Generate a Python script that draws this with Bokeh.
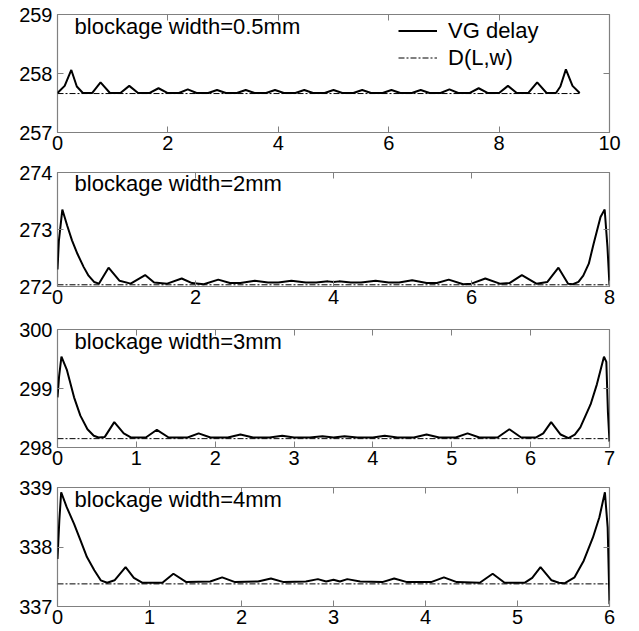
from bokeh.plotting import figure
from bokeh.models import Range1d, FixedTicker, LinearAxis, Label, Legend, LegendItem, CustomJSTickFormatter
from bokeh.layouts import column
from bokeh.embed import file_html
from bokeh.resources import INLINE

# ---------------- data ----------------
titles = ["blockage width=0.5mm", "blockage width=2mm", "blockage width=3mm", "blockage width=4mm"]
legend_labels = ["VG delay", "D(L,w)"]

x_ranges = [(0, 10), (0, 8), (0, 7), (0, 6)]
y_ranges = [(257, 259), (272, 274), (298, 300), (337, 339)]
x_ticks = [[0, 2, 4, 6, 8, 10], [0, 2, 4, 6, 8], [0, 1, 2, 3, 4, 5, 6, 7], [0, 1, 2, 3, 4, 5, 6]]
y_ticks = [[257, 258, 259], [272, 273, 274], [298, 299, 300], [337, 338, 339]]

# panel 1: width 0.5 mm
vg_x1 = [0.00, 0.13, 0.25, 0.35, 0.46, 0.63, 0.78, 0.95, 1.14, 1.30, 1.46, 1.67, 1.83, 1.99, 2.20, 2.36,
         2.52, 2.73, 2.89, 3.05, 3.25, 3.41, 3.57, 3.78, 3.94, 4.10, 4.31, 4.47, 4.63, 4.84, 5.00, 5.16,
         5.36, 5.52, 5.68, 5.89, 6.05, 6.21, 6.42, 6.58, 6.74, 6.94, 7.10, 7.26, 7.47, 7.63, 7.79, 8.00,
         8.16, 8.32, 8.53, 8.69, 8.86, 9.03, 9.11, 9.21, 9.33, 9.46]
vg_y1 = [257.67, 257.79, 258.06, 257.78, 257.67, 257.67, 257.85, 257.67, 257.67, 257.79, 257.67, 257.67,
         257.75, 257.67, 257.67, 257.73, 257.67, 257.67, 257.72, 257.67, 257.67, 257.72, 257.67, 257.67,
         257.72, 257.67, 257.67, 257.72, 257.67, 257.67, 257.72, 257.67, 257.67, 257.72, 257.67, 257.67,
         257.72, 257.67, 257.67, 257.72, 257.67, 257.67, 257.73, 257.67, 257.67, 257.75, 257.67, 257.67,
         257.79, 257.67, 257.67, 257.85, 257.67, 257.67, 257.78, 258.07, 257.79, 257.67]
d_x1 = [0.0, 9.46]
d_y1 = [257.66, 257.66]

# panel 2: width 2 mm
vg_x2 = [0.00, 0.02, 0.07, 0.14, 0.21, 0.29, 0.38, 0.45, 0.53, 0.60, 0.74, 0.90, 1.06, 1.27, 1.40, 1.59,
         1.80, 1.95, 2.12, 2.33, 2.50, 2.65, 2.86, 3.05, 3.20, 3.39, 3.60, 3.75, 3.92, 4.00, 4.08, 4.25,
         4.40, 4.61, 4.80, 4.95, 5.14, 5.35, 5.50, 5.67, 5.88, 6.00, 6.20, 6.41, 6.55, 6.73, 6.94, 7.10,
         7.26, 7.40, 7.47, 7.55, 7.62, 7.70, 7.77, 7.87, 7.93, 7.97, 8.00]
vg_y2 = [272.30, 272.80, 273.35, 273.07, 272.81, 272.57, 272.34, 272.19, 272.08, 272.05, 272.33, 272.10,
         272.05, 272.20, 272.07, 272.05, 272.14, 272.06, 272.04, 272.12, 272.06, 272.06, 272.10, 272.07,
         272.07, 272.10, 272.07, 272.07, 272.09, 272.08, 272.09, 272.07, 272.07, 272.10, 272.07, 272.07,
         272.11, 272.06, 272.06, 272.12, 272.04, 272.05, 272.14, 272.05, 272.06, 272.20, 272.05, 272.08,
         272.33, 272.05, 272.04, 272.08, 272.19, 272.40, 272.75, 273.22, 273.35, 272.70, 272.02]
d_x2 = [0.0, 8.0]
d_y2 = [272.03, 272.03]

# panel 3: width 3 mm
vg_x3 = [0.00, 0.02, 0.05, 0.12, 0.21, 0.29, 0.38, 0.46, 0.52, 0.60, 0.72, 0.84, 0.93, 1.12, 1.26, 1.41,
         1.65, 1.79, 1.94, 2.16, 2.32, 2.48, 2.69, 2.85, 3.00, 3.20, 3.36, 3.50, 3.64, 3.80, 4.00, 4.15,
         4.31, 4.52, 4.68, 4.84, 5.05, 5.20, 5.35, 5.58, 5.73, 5.88, 6.07, 6.16, 6.26, 6.38, 6.48, 6.56,
         6.63, 6.76, 6.84, 6.93, 6.96, 6.98, 7.00]
vg_y3 = [298.85, 299.20, 299.54, 299.31, 298.85, 298.54, 298.31, 298.20, 298.17, 298.18, 298.43, 298.24,
         298.17, 298.17, 298.30, 298.17, 298.17, 298.24, 298.17, 298.17, 298.22, 298.17, 298.17, 298.20,
         298.17, 298.17, 298.19, 298.17, 298.19, 298.17, 298.17, 298.20, 298.17, 298.17, 298.22, 298.17,
         298.17, 298.24, 298.17, 298.17, 298.31, 298.17, 298.17, 298.24, 298.43, 298.22, 298.16, 298.22,
         298.34, 298.73, 299.07, 299.54, 299.45, 298.60, 298.10]
d_x3 = [0.0, 7.0]
d_y3 = [298.15, 298.15]

# panel 4: width 4 mm
vg_x4 = [0.00, 0.02, 0.04, 0.10, 0.18, 0.25, 0.32, 0.40, 0.47, 0.54, 0.62, 0.74, 0.83, 0.92, 1.14, 1.26,
         1.40, 1.66, 1.79, 1.93, 2.18, 2.32, 2.46, 2.70, 2.83, 2.92, 3.00, 3.07, 3.15, 3.29, 3.53, 3.66,
         3.80, 4.06, 4.20, 4.34, 4.59, 4.73, 4.86, 5.08, 5.16, 5.25, 5.37, 5.45, 5.51, 5.62, 5.72, 5.82,
         5.89, 5.95, 5.98, 6.00]
vg_y4 = [337.80, 338.45, 338.92, 338.67, 338.39, 338.11, 337.83, 337.61, 337.44, 337.40, 337.44, 337.66,
         337.48, 337.40, 337.40, 337.55, 337.41, 337.42, 337.49, 337.41, 337.42, 337.47, 337.41, 337.42,
         337.46, 337.42, 337.45, 337.42, 337.46, 337.42, 337.41, 337.47, 337.41, 337.41, 337.49, 337.41,
         337.40, 337.55, 337.40, 337.40, 337.48, 337.66, 337.44, 337.40, 337.39, 337.49, 337.77, 338.16,
         338.50, 338.92, 338.33, 337.04]
d_x4 = [0.0, 6.0]
d_y4 = [337.38, 337.38]

vg_xs = [vg_x1, vg_x2, vg_x3, vg_x4]
vg_ys = [vg_y1, vg_y2, vg_y3, vg_y4]
d_xs = [d_x1, d_x2, d_x3, d_x4]
d_ys = [d_y1, d_y2, d_y3, d_y4]

# ---------------- layout / style ----------------
FONT = "Liberation Sans"
GRAY = "#808080"
frame_heights = [118, 114, 118, 119]
borders_top = [14, 12, 14, 12]
borders_bottom = [28, 29, 28, 25]


def style_axis(ax, ticks, show_labels=True):
    ax.ticker = FixedTicker(ticks=ticks)
    ax.axis_line_color = None
    ax.major_tick_in = 6
    ax.major_tick_out = 0
    ax.major_tick_line_color = GRAY
    ax.major_tick_line_width = 1
    ax.minor_tick_line_color = None
    if show_labels:
        ax.major_label_text_font = FONT
        ax.major_label_text_font_size = "20px"
        ax.major_label_text_color = "black"
    else:
        ax.formatter = CustomJSTickFormatter(code="return ''")
        ax.major_label_text_font_size = "0px"
        ax.major_label_standoff = 0


figs = []
for i in range(4):
    p = figure(frame_width=552, frame_height=frame_heights[i],
               x_range=Range1d(*x_ranges[i]), y_range=Range1d(*y_ranges[i]),
               output_backend="svg", toolbar_location=None,
               min_border_left=57, min_border_right=30,
               min_border_top=borders_top[i], min_border_bottom=borders_bottom[i])
    p.xgrid.visible = False
    p.ygrid.visible = False
    p.outline_line_color = GRAY
    p.outline_line_width = 1.2
    p.background_fill_color = "white"
    p.border_fill_color = "white"

    style_axis(p.xaxis[0], x_ticks[i])
    p.xaxis[0].major_label_standoff = 3
    style_axis(p.yaxis[0], y_ticks[i])
    p.yaxis[0].major_label_standoff = 5

    top_ax = LinearAxis()
    style_axis(top_ax, x_ticks[i], show_labels=False)
    p.add_layout(top_ax, "above")
    right_ax = LinearAxis()
    style_axis(right_ax, y_ticks[i], show_labels=False)
    p.add_layout(right_ax, "right")

    r_vg = p.line(vg_xs[i], vg_ys[i], line_color="black", line_width=2)
    r_d = p.line(d_xs[i], d_ys[i], line_color="black", line_width=1, line_dash="6 2 2 2")

    xr, yr = x_ranges[i], y_ranges[i]
    lab = Label(x=xr[0] + (xr[1] - xr[0]) * 0.031, y=yr[1] - 0.2, text=titles[i],
                text_font=FONT, text_font_size="22px", text_color="black",
                text_align="left", text_baseline="alphabetic")
    p.add_layout(lab)

    if i == 0:
        leg = Legend(items=[LegendItem(label=legend_labels[0], renderers=[r_vg]),
                            LegendItem(label=legend_labels[1], renderers=[r_d])],
                     location=(341, 61), orientation="vertical",
                     padding=0, margin=0, spacing=0,
                     glyph_width=39, glyph_height=27, label_height=27, label_standoff=11,
                     border_line_color=None, background_fill_alpha=0,
                     label_text_font=FONT, label_text_font_size="22px",
                     label_text_color="black")
        p.add_layout(leg)
    figs.append(p)

layout = column(*figs, spacing=0)
open("out.html", "w").write(file_html(layout, INLINE))
